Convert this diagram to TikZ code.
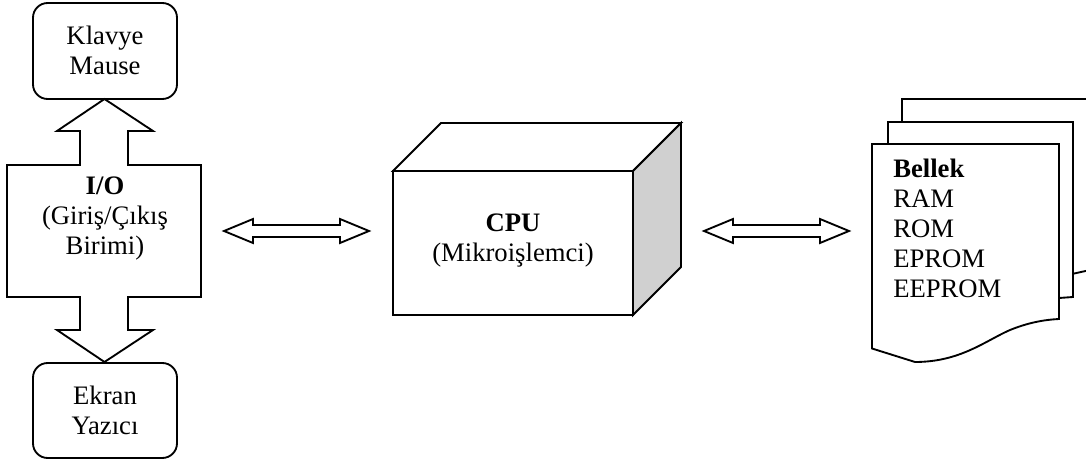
\documentclass[tikz,border=0pt]{standalone}
\usepackage{fontspec}
\setmainfont{Liberation Serif}
\definecolor{sideshade}{RGB}{208,208,208}
\begin{document}
\begin{tikzpicture}[x=0.75pt, y=-0.75pt,
  line join=miter,
  outline/.style={draw=black, line width=1.4pt, fill=white},
  devbox/.style={outline, rounded corners=11pt},
  label/.style={font=\fontsize{20}{22.5}\selectfont, align=center, inner sep=0pt},
  listtext/.style={font=\fontsize{20}{22.5}\selectfont, align=left, inner sep=0pt, anchor=west}]
\useasboundingbox (0,0) rectangle (1086,463);
\clip (0,0) rectangle (1086,463);

% input devices and output devices
\draw[devbox] (33,3) rectangle (177,99);
\node[label] (in) at (105,50) {Klavye\\Mause};
\draw[devbox] (33,363) rectangle (177,458);
\node[label] (out) at (105,410) {Ekran\\Yazıcı};

% I/O unit with its up and down block arrows
\draw[outline] (7,165) -- (80,165) -- (80,131) -- (57,131) -- (104.5,99)
  -- (153,131) -- (128,131) -- (128,165) -- (201,165) -- (201,297)
  -- (128,297) -- (128,330) -- (153,330) -- (104.5,362) -- (57,330)
  -- (80,330) -- (80,297) -- (7,297) -- cycle;
\node[label] (io) at (105,219) {\textbf{I/O}\\(Giriş/Çıkış\\Birimi)};

% CPU drawn as a box
\draw[outline] (393,171) -- (441,123) -- (681,123) -- (633,171) -- cycle;
\draw[outline, fill=sideshade] (633,171) -- (681,123) -- (681,267) -- (633,315) -- cycle;
\draw[outline] (393,171) rectangle (633,315);
\node[label] (cpu) at (513,241) {\textbf{CPU}\\(Mikroişlemci)};

% memory as a stack of pages
\draw[outline] (902,99) -- (1102,99) -- (1102,268) .. controls (1090,270) .. (1072,274) -- (1072,280) -- (902,280) -- cycle;
\draw[outline] (888,122) -- (1073,122) -- (1073,297) .. controls (1066,297) .. (1059,298) -- (1059,300) -- (888,300) -- cycle;
\draw[outline] (872,144) -- (1059,144) -- (1059,319)
  .. controls (1040,320) and (1025,324) .. (1010,330)
  .. controls (985,341) and (960,362) .. (915,362)
  -- (872,348.5) -- cycle;
\node[listtext] (mem) at (893,228) {\textbf{Bellek}\\RAM\\ROM\\EPROM\\EEPROM};

% bidirectional block arrows between the units
\draw[outline] (224,231) -- (253,219) -- (253,225) -- (340,225) -- (340,219)
  -- (369,231) -- (340,243) -- (340,237) -- (253,237) -- (253,243) -- cycle;
\draw[outline] (704,231) -- (733,219) -- (733,225) -- (820,225) -- (820,219)
  -- (849,231) -- (820,243) -- (820,237) -- (733,237) -- (733,243) -- cycle;
\end{tikzpicture}
\end{document}
